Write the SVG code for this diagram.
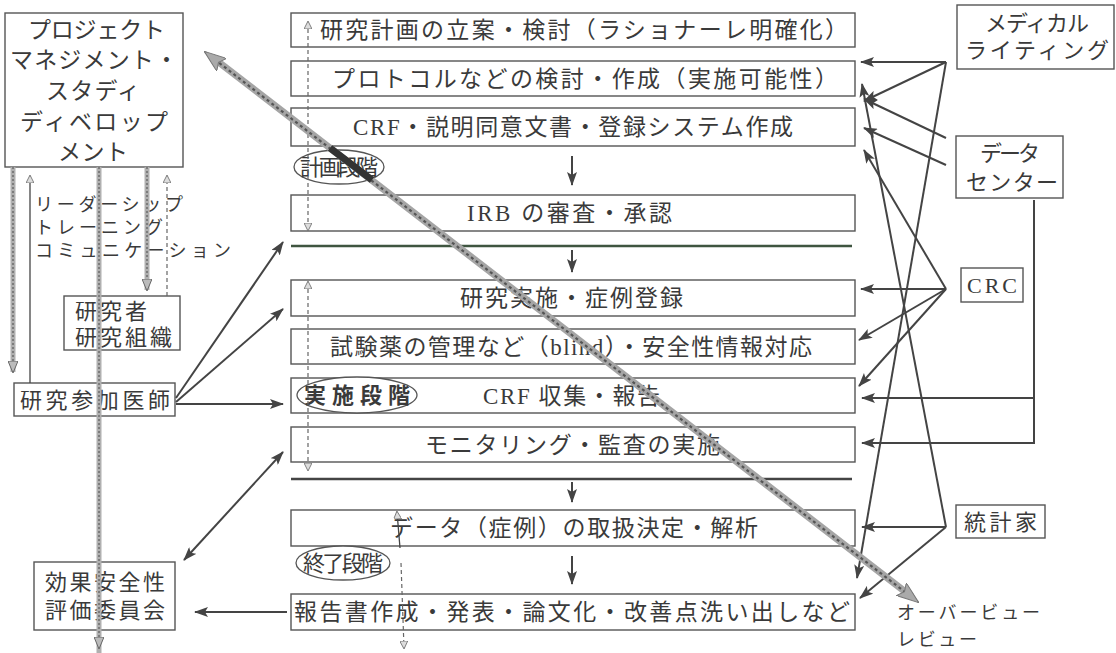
<svg xmlns="http://www.w3.org/2000/svg" width="1116" height="653" viewBox="0 0 1116 653">
<defs>
<style>
.t{font-family:"Liberation Serif","Noto Sans CJK JP",serif;fill:#3a3a3a;font-size:22px}
.m{font-size:23px}
.s{font-size:18px}
.b{fill:#fff;stroke:#555;stroke-width:1.4}
.ln{stroke:#444;stroke-width:2;fill:none}
.th{stroke:#444;stroke-width:1.3;fill:none}
.dsh{stroke:#666;stroke-width:1.2;fill:none;stroke-dasharray:4 3}
.gb{stroke:#b0b0b0;stroke-width:5;fill:none}
.gd{stroke:#707070;stroke-width:1.6;fill:none;stroke-dasharray:2 2}
.el{fill:#fff;stroke:#555;stroke-width:1.3}
</style>
<marker id="ah" viewBox="0 0 14 10" refX="13" refY="5" markerWidth="14" markerHeight="10" markerUnits="userSpaceOnUse" orient="auto-start-reverse"><path d="M0,0 L14,5 L0,10 L3,5 z" fill="#444"/></marker>
<marker id="gh" viewBox="0 0 12 10" refX="11" refY="5" markerWidth="12" markerHeight="10" markerUnits="userSpaceOnUse" orient="auto-start-reverse"><path d="M0,0 L12,5 L0,10 z" fill="#bbb" stroke="#666" stroke-width="1"/></marker>
<marker id="sh" viewBox="0 0 8 8" refX="7" refY="4" markerWidth="8" markerHeight="8" markerUnits="userSpaceOnUse" orient="auto-start-reverse"><path d="M0,0 L8,4 L0,8 z" fill="#ddd" stroke="#666" stroke-width="0.8"/></marker>
<marker id="bh" viewBox="0 0 22 16" refX="21" refY="8" markerWidth="22" markerHeight="16" markerUnits="userSpaceOnUse" orient="auto-start-reverse"><path d="M0,0 L22,8 L0,16 L4,8 z" fill="#aaa" stroke="#777" stroke-width="1"/></marker>
</defs>
<rect width="1116" height="653" fill="#fff"/>

<g id="pm"><rect class="b" x="5" y="13" width="178" height="154"/>
<text class="t m" x="28" y="38" textLength="137">プロジェクト</text>
<text class="t m" x="10" y="68" textLength="168">マネジメント・</text>
<text class="t m" x="46" y="99" textLength="94">スタディ</text>
<text class="t m" x="20" y="130" textLength="148">ディベロップ</text>
<text class="t m" x="58" y="160" textLength="70">メント</text></g>

<g id="researcher"><rect class="b" x="64" y="296" width="116" height="54"/>
<text class="t" x="75" y="319" textLength="72">研究者</text>
<text class="t" x="75" y="345" textLength="97">研究組織</text></g>

<g id="doctor"><rect class="b" x="14" y="383" width="161" height="33"/>
<text class="t" x="20" y="407.5" textLength="150">研究参加医師</text></g>

<g id="dsmb"><rect class="b" x="34" y="562" width="141" height="68"/>
<text class="t" x="45" y="590" textLength="120">効果安全性</text>
<text class="t" x="45" y="618" textLength="120">評価委員会</text></g>

<g id="medwrite"><rect class="b" x="957" y="5" width="157" height="64"/>
<text class="t" x="985" y="31" textLength="104">メディカル</text>
<text class="t" x="965" y="58" textLength="144">ライティング</text></g>

<g id="datacenter"><rect class="b" x="956" y="136" width="107" height="62"/>
<text class="t" x="980" y="161" textLength="60">データ</text>
<text class="t" x="966" y="190" textLength="92">センター</text></g>

<g id="crc"><rect class="b" x="961" y="268" width="62" height="34"/>
<text class="t" x="967" y="292.5" textLength="50">CRC</text></g>

<g id="stat"><rect class="b" x="956" y="505" width="89" height="33"/>
<text class="t" x="964" y="529.5" textLength="73">統計家</text></g>

<g id="overview"><text class="t s" x="897" y="619" textLength="143">オーバービュー</text>
<text class="t s" x="897" y="646" textLength="80">レビュー</text></g>

<g id="leadership"><text class="t s" x="35" y="211" textLength="148">リーダーシップ</text>
<text class="t s" x="35" y="234" textLength="128">トレーニング</text>
<text class="t s" x="35" y="257" textLength="196">コミュニケーション</text></g>

<g id="s1"><rect class="b" x="291" y="13" width="564" height="34"/>
<text class="t m" x="320" y="38" textLength="528">研究計画の立案・検討（ラショナーレ明確化）</text></g>
<g id="s2"><rect class="b" x="291" y="61" width="564" height="35"/>
<text class="t m" x="332" y="86.5" textLength="506">プロトコルなどの検討・作成（実施可能性）</text></g>
<g id="s3"><rect class="b" x="291" y="108" width="564" height="38"/>
<text class="t m" x="353" y="135" textLength="440">CRF・説明同意文書・登録システム作成</text></g>
<g id="s4"><rect class="b" x="291" y="195" width="564" height="36"/>
<text class="t m" x="467" y="221" textLength="205">IRB の審査・承認</text></g>
<g id="s5"><rect class="b" x="291" y="280" width="564" height="36"/>
<text class="t m" x="460" y="306" textLength="223">研究実施・症例登録</text></g>
<g id="s6"><rect class="b" x="291" y="329" width="564" height="35"/>
<text class="t m" x="330" y="354.5" textLength="482">試験薬の管理など（blind）・安全性情報対応</text></g>
<g id="s7"><rect class="b" x="291" y="378" width="564" height="35"/>
<text class="t m" x="483" y="403.5" textLength="177">CRF 収集・報告</text></g>
<g id="s8"><rect class="b" x="291" y="427" width="564" height="35"/>
<text class="t m" x="425" y="452.5" textLength="295">モニタリング・監査の実施</text></g>
<g id="s9"><rect class="b" x="291" y="510" width="564" height="36"/>
<text class="t m" x="390" y="536" textLength="368">データ（症例）の取扱決定・解析</text></g>
<g id="s10"><rect class="b" x="291" y="594" width="564" height="36"/>
<text class="t m" x="294" y="620" textLength="556">報告書作成・発表・論文化・改善点洗い出しなど</text></g>

<g id="ph1"><ellipse class="el" cx="339" cy="167" rx="45" ry="17"/>
<text class="t" font-size="20" x="300" y="174.5" textLength="78">計画段階</text></g>
<g id="ph2"><ellipse class="el" cx="357" cy="395" rx="60" ry="18"/>
<text class="t" font-size="21" font-weight="bold" x="304" y="403" textLength="106">実施段階</text></g>
<g id="ph3"><ellipse class="el" cx="343" cy="563" rx="47" ry="17"/>
<text class="t" font-size="20" x="303" y="570.5" textLength="80">終了段階</text></g>

<g id="connectors">
<line x1="291" y1="246" x2="852" y2="246" stroke="#3f5540" stroke-width="2.6"/>
<line x1="291" y1="479" x2="852" y2="479" stroke="#444" stroke-width="2.6"/>
<line class="ln" x1="572" y1="156" x2="572" y2="185" marker-end="url(#ah)"/>
<line class="ln" x1="572" y1="250" x2="572" y2="272" marker-end="url(#ah)"/>
<line class="ln" x1="572" y1="482" x2="572" y2="502" marker-end="url(#ah)"/>
<line class="ln" x1="572" y1="556" x2="572" y2="584" marker-end="url(#ah)"/>

<line class="dsh" x1="308" y1="22" x2="308" y2="230" marker-start="url(#sh)" marker-end="url(#sh)"/>
<line class="dsh" x1="308" y1="282" x2="308" y2="470" marker-start="url(#sh)" marker-end="url(#sh)"/>
<line class="th" x1="397" y1="512" x2="400" y2="548" marker-start="url(#sh)"/>
<line class="dsh" x1="401" y1="563" x2="404" y2="648" marker-end="url(#sh)"/>

<line class="gb" x1="13" y1="167" x2="13" y2="372"/><line class="gd" x1="13" y1="167" x2="13" y2="372" marker-end="url(#gh)"/>
<line class="gb" x1="99" y1="167" x2="99" y2="653"/><line class="gd" x1="99" y1="167" x2="99" y2="648" marker-end="url(#gh)"/>
<line class="gb" x1="147" y1="167" x2="147" y2="290"/><line class="gd" x1="147" y1="167" x2="147" y2="290" marker-end="url(#gh)"/>
<line class="th" x1="30" y1="383" x2="30" y2="176" marker-end="url(#sh)"/>
<line class="dsh" x1="167" y1="296" x2="167" y2="176" marker-end="url(#sh)"/>

<line class="ln" x1="176" y1="398" x2="283" y2="242" marker-end="url(#ah)"/>
<line class="ln" x1="176" y1="402" x2="283" y2="309" marker-end="url(#ah)"/>
<line class="ln" x1="176" y1="404" x2="283" y2="404" marker-end="url(#ah)"/>
<line class="ln" x1="184" y1="560" x2="283" y2="452" marker-start="url(#ah)" marker-end="url(#ah)"/>
<line class="ln" x1="287" y1="612" x2="195" y2="612" marker-end="url(#ah)"/>

<line class="ln" x1="946" y1="62" x2="861" y2="62" marker-end="url(#ah)"/>
<line class="ln" x1="946" y1="62" x2="864" y2="101" marker-end="url(#ah)"/>
<line class="ln" x1="946" y1="62" x2="857" y2="578" marker-end="url(#ah)"/>
<line class="ln" x1="946" y1="138" x2="864" y2="99" marker-end="url(#ah)"/>
<line class="ln" x1="946" y1="165" x2="864" y2="128" marker-end="url(#ah)"/>
<polyline class="ln" points="1034,200 1034,443 862,443" marker-end="url(#ah)"/>
<line class="ln" x1="1034" y1="398" x2="862" y2="398" marker-end="url(#ah)"/>
<line class="ln" x1="946" y1="289" x2="861" y2="289" marker-end="url(#ah)"/>
<line class="ln" x1="946" y1="289" x2="864" y2="150" marker-end="url(#ah)"/>
<line class="ln" x1="946" y1="289" x2="859" y2="340" marker-end="url(#ah)"/>
<line class="ln" x1="946" y1="289" x2="859" y2="386" marker-end="url(#ah)"/>
<line class="ln" x1="946" y1="527" x2="862" y2="527" marker-end="url(#ah)"/>
<line class="ln" x1="946" y1="527" x2="862" y2="84" marker-end="url(#ah)"/>
<line class="ln" x1="946" y1="527" x2="860" y2="598" marker-end="url(#ah)"/>

<line x1="212" y1="57" x2="912" y2="597" stroke="#a5a5a5" stroke-width="7"/>
<line x1="205" y1="52" x2="918" y2="602" stroke="#555" stroke-width="2.2" stroke-dasharray="3 3" marker-start="url(#bh)" marker-end="url(#bh)"/>
<line x1="330" y1="148" x2="372" y2="180" stroke="#333" stroke-width="7"/>
</g>
</svg>
